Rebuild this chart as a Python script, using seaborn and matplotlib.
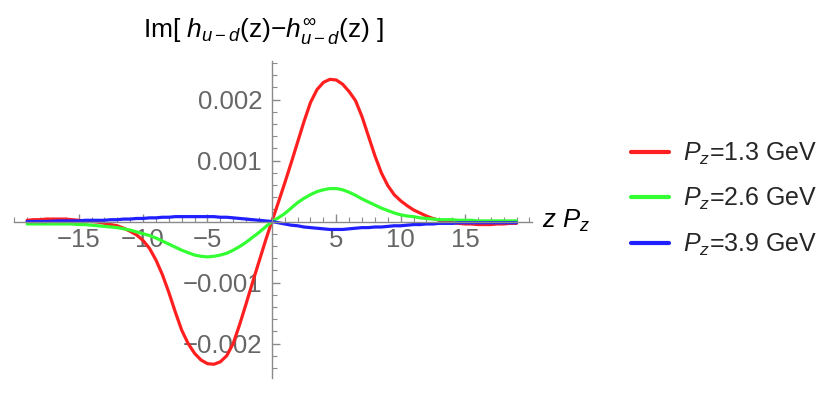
import numpy as np
import pandas as pd
import seaborn as sns
import matplotlib
matplotlib.use("Agg")
import matplotlib.pyplot as plt
from matplotlib.ticker import MultipleLocator, FuncFormatter

# ---- data (z from -19 to 19, step 0.5) ----
z = [i / 2 for i in range(-38, 39)]
red = [0.00002, 0.00003, 0.00003, 0.00004, 0.00004, 0.00004, 0.00004, 0.00003, 0.00002,
       0.00001, 0.0, -0.00001, -0.00003, -0.00005, -0.00007, -0.00011, -0.00016, -0.00022,
       -0.00031, -0.00044, -0.00063, -0.00087, -0.00116, -0.00148, -0.00178, -0.00200,
       -0.00216, -0.00227, -0.00233, -0.00234, -0.00230, -0.00220, -0.00200, -0.00169,
       -0.00135, -0.00100, -0.00066, -0.00032, 0.0,
       0.00031, 0.00063, 0.00096, 0.00130, 0.00164, 0.00195, 0.00216, 0.00228, 0.00233,
       0.00232, 0.00225, 0.00213, 0.00198, 0.00172, 0.00140, 0.00108, 0.00080, 0.00059,
       0.00044, 0.00034, 0.00026, 0.00019, 0.00014, 0.00009, 0.00005, 0.00002, 0.0,
       -0.00002, -0.00003, -0.00004, -0.00004, -0.00005, -0.00005, -0.00005, -0.00004,
       -0.00004, -0.00003, -0.00003]
green = [-0.00004, -0.00004, -0.00004, -0.00004, -0.00004, -0.00004, -0.00004, -0.00004,
         -0.00005, -0.00005, -0.00006, -0.00007, -0.00008, -0.00009, -0.00010, -0.00012,
         -0.00014, -0.00017, -0.00020, -0.00023, -0.00027, -0.00032, -0.00037, -0.00042,
         -0.00047, -0.00051, -0.00055, -0.00057, -0.00058, -0.00057, -0.00055, -0.00052,
         -0.00047, -0.00041, -0.00034, -0.00026, -0.00018, -0.00009, 0.0,
         0.00006, 0.00013, 0.00022, 0.00031, 0.00038, 0.00044, 0.00049, 0.00052, 0.00054,
         0.00054, 0.00052, 0.00048, 0.00043, 0.00037, 0.00032, 0.00027, 0.00022, 0.00018,
         0.00014, 0.00011, 0.00009, 0.00008, 0.00006, 0.00005, 0.00004, 0.00003, 0.00003,
         0.00003, 0.00002, 0.00002, 0.00002, 0.00001, 0.00001, 0.00001, 0.00001, 0.00001,
         0.00001, 0.00001]
blue = [0.0, 0.0, 0.0, 0.0, 0.000005, 0.00001, 0.00001, 0.00001, 0.00001, 0.00002, 0.00002,
        0.00002, 0.00002, 0.00003, 0.00003, 0.00004, 0.00004, 0.00005, 0.00005, 0.00006,
        0.00006, 0.00007, 0.00007, 0.00008, 0.00008, 0.00008, 0.00008, 0.00008, 0.00008,
        0.00008, 0.00007, 0.00007, 0.00006, 0.00005, 0.00004, 0.00003, 0.00002, 0.00001, 0.0,
        -0.00002, -0.00004, -0.00006, -0.00007, -0.00009, -0.00010, -0.00011, -0.00012,
        -0.00013, -0.00013, -0.00013, -0.00012, -0.00011, -0.00010, -0.00010, -0.00009,
        -0.00009, -0.00008, -0.00007, -0.00007, -0.00006, -0.00005, -0.00005, -0.00004,
        -0.00004, -0.00003, -0.00003, -0.00003, -0.00002, -0.00002, -0.00002, -0.00002,
        -0.00002, -0.00002, -0.00002, -0.00002, -0.00002, -0.00002]
labels = [r"$P_z$=1.3 GeV", r"$P_z$=2.6 GeV", r"$P_z$=3.9 GeV"]
colors = ["#ff1f1f", "#33ff33", "#1f1fff"]
xticks = [-15, -10, -5, 5, 10, 15]
yticks = [-0.002, -0.001, 0.001, 0.002]

df = pd.concat([
    pd.DataFrame({"z": z, "val": vals, "series": lab})
    for vals, lab in zip([red, green, blue], labels)
], ignore_index=True)

sns.set_theme(style="white")
plt.rcParams["font.family"] = ["Liberation Sans", "DejaVu Sans"]
plt.rcParams["mathtext.fontset"] = "custom"
plt.rcParams["mathtext.rm"] = "Liberation Sans"
plt.rcParams["mathtext.it"] = "Liberation Sans:italic"
plt.rcParams["mathtext.bf"] = "Liberation Sans:bold"

fig = plt.figure(figsize=(8.4, 3.94), dpi=100)
ax = fig.add_axes([13.6 / 840, 15.7 / 394, (532 - 13.6) / 840, (378.3 - 60.7) / 394])

sns.lineplot(data=df, x="z", y="val", hue="series", palette=colors, ax=ax,
             linewidth=2.3, legend=True, sort=True)

ax.set_xlim(-20.05, 20.2)
ax.set_ylim(-0.00257, 0.002636)

for s in ["top", "right"]:
    ax.spines[s].set_visible(False)
ax.spines["left"].set_position(("data", 0))
ax.spines["bottom"].set_position(("data", 0))
axis_col = "#8a8a8a"
for s in ["left", "bottom"]:
    ax.spines[s].set_color(axis_col)
    ax.spines[s].set_linewidth(1.0)

ax.set_xticks(xticks)
ax.set_yticks(yticks)
ax.xaxis.set_minor_locator(MultipleLocator(1))
ax.yaxis.set_minor_locator(MultipleLocator(0.0002))
ax.xaxis.set_major_formatter(FuncFormatter(lambda v, p: f"{v:.0f}".replace("-", "\u2212")))
ax.yaxis.set_major_formatter(FuncFormatter(lambda v, p: f"{v:.3f}".replace("-", "\u2212")))
ax.tick_params(axis="both", which="both", bottom=True, left=True, top=False, right=False)
ax.tick_params(axis="both", which="major", direction="in", length=6, width=1.0,
               color=axis_col, labelcolor="#666666", labelsize=18.5)
ax.tick_params(axis="both", which="minor", direction="in", length=3.5, width=0.8,
               color=axis_col)
ax.tick_params(axis="x", which="major", pad=5)
ax.tick_params(axis="y", which="major", pad=7)
ax.set_xlabel("")
ax.set_ylabel("")
ax.grid(False)

fig.text(143 / 840, 1 - 31 / 394,
         r"Im[ $h_{u-d}$(z)$-h^{\infty}_{u-d}$(z) ]",
         ha="left", va="center", fontsize=19, color="black")
fig.text(542 / 840, 1 - 221 / 394, r"$z\ P_z$", ha="left", va="center",
         fontsize=18.5, color="black")

leg = ax.get_legend()
handles = leg.legend_handles
leg.remove()
fig.legend(handles, labels, loc="center left", bbox_to_anchor=(631 / 840, 1 - 199 / 394),
           frameon=False, fontsize=18, handlelength=1.52, handletextpad=0.56,
           labelspacing=0.77, borderaxespad=0, borderpad=0)
for h in fig.legends[0].get_lines():
    h.set_linewidth(3)

fig.savefig("out.png", dpi=100)
